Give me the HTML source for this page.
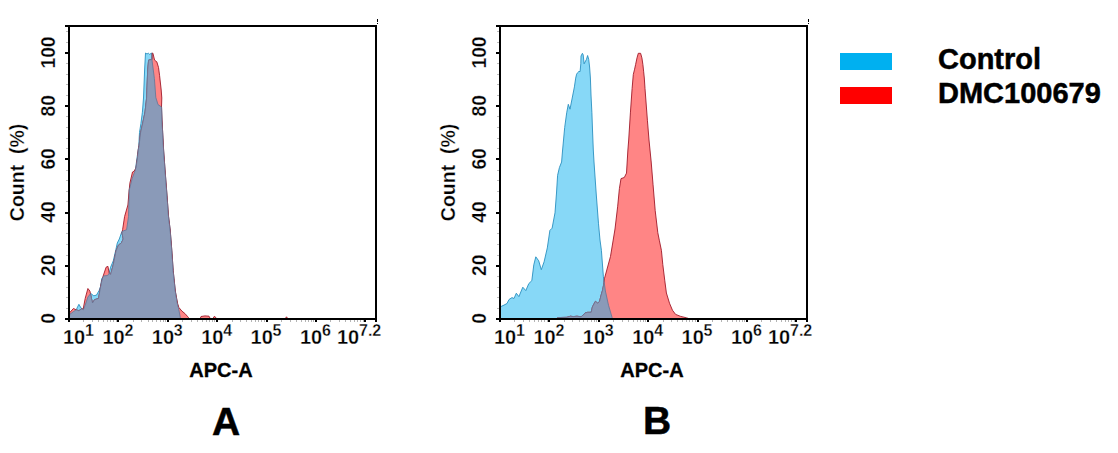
<!DOCTYPE html>
<html><head><meta charset="utf-8"><style>
html,body{margin:0;padding:0;background:#fff;}
body{width:1118px;height:453px;overflow:hidden;}
svg{display:block;}
.th{stroke:#fff;stroke-width:0.3px;}
.bo{stroke:#000;stroke-width:0.5px;}
.bo3{stroke:#000;stroke-width:0.3px;}
text{font-family:"Liberation Sans",sans-serif;font-weight:bold;fill:#000;}
</style></head><body>
<svg width="1118" height="453" viewBox="0 0 1118 453">

<defs><clipPath id="hAc"><polygon points="69.0,319.0 69.8,314.3 73.4,311.6 76.2,309.8 78.9,304.3 81.0,308.0 83.4,309.8 85.2,305.0 87.9,297.0 90.7,293.5 91.2,293.8 93.8,295.8 96.5,295.1 99.1,290.5 100.5,286.5 101.8,278.5 103.8,275.9 107.0,275.6 108.8,274.4 110.6,267.2 113.3,260.8 116.0,249.0 117.3,243.0 119.3,239.0 121.9,231.5 126.6,229.7 128.5,216.5 128.8,207.0 129.2,190.0 129.9,187.5 132.1,178.7 135.4,169.9 136.9,158.8 138.8,145.3 139.5,132.4 140.9,123.7 142.4,112.2 143.5,98.0 144.6,70.0 145.5,53.0 147.0,54.0 148.3,53.2 149.6,54.3 151.8,53.0 152.0,60.0 154.4,78.7 155.8,97.4 158.0,104.6 161.6,107.0 162.0,120.0 163.6,150.0 165.2,172.0 166.9,194.0 168.5,216.2 170.2,230.0 171.8,250.3 173.2,270.7 175.3,291.0 177.3,303.2 178.9,310.0 180.3,317.5 181.0,319.0"/></clipPath><clipPath id="hAr"><polygon points="69.0,319.0 69.8,312.5 73.4,308.5 76.2,309.8 78.9,310.7 81.6,308.9 83.2,309.0 85.2,298.4 87.9,288.5 89.9,291.1 91.2,297.1 92.5,303.0 94.5,299.7 98.5,298.4 101.1,283.8 103.0,276.5 106.1,267.2 107.9,266.3 109.3,273.5 110.6,274.4 113.3,264.5 116.0,250.9 118.5,245.0 121.3,243.0 123.2,239.0 122.0,233.0 122.6,229.7 124.6,216.5 127.9,205.0 129.2,190.0 129.9,183.1 132.5,172.0 134.3,171.0 136.0,167.6 137.6,156.6 138.2,150.0 139.0,146.0 140.5,133.0 142.5,124.0 145.0,112.0 146.6,98.0 147.7,70.0 148.6,60.0 152.0,59.5 152.2,53.0 152.9,53.2 154.6,60.2 156.8,61.8 158.5,67.4 159.6,75.7 161.2,90.0 161.8,98.0 161.5,107.0 162.0,120.0 163.6,150.0 165.2,172.0 166.9,194.0 168.5,216.2 170.2,230.0 171.8,250.3 173.2,270.7 175.3,291.0 176.0,295.0 177.7,303.9 178.9,307.5 181.9,311.1 184.9,313.5 187.3,316.2 188.5,317.6 189.0,319.0 200.0,319.0 201.0,316.5 205.0,315.9 209.0,316.2 210.5,319.0 212.5,319.0 214.5,316.2 217.0,319.0 285.0,319.0 286.5,316.8 288.0,319.0"/></clipPath></defs>
<polygon points="69.0,319.0 69.8,314.3 73.4,311.6 76.2,309.8 78.9,304.3 81.0,308.0 83.4,309.8 85.2,305.0 87.9,297.0 90.7,293.5 91.2,293.8 93.8,295.8 96.5,295.1 99.1,290.5 100.5,286.5 101.8,278.5 103.8,275.9 107.0,275.6 108.8,274.4 110.6,267.2 113.3,260.8 116.0,249.0 117.3,243.0 119.3,239.0 121.9,231.5 126.6,229.7 128.5,216.5 128.8,207.0 129.2,190.0 129.9,187.5 132.1,178.7 135.4,169.9 136.9,158.8 138.8,145.3 139.5,132.4 140.9,123.7 142.4,112.2 143.5,98.0 144.6,70.0 145.5,53.0 147.0,54.0 148.3,53.2 149.6,54.3 151.8,53.0 152.0,60.0 154.4,78.7 155.8,97.4 158.0,104.6 161.6,107.0 162.0,120.0 163.6,150.0 165.2,172.0 166.9,194.0 168.5,216.2 170.2,230.0 171.8,250.3 173.2,270.7 175.3,291.0 177.3,303.2 178.9,310.0 180.3,317.5 181.0,319.0" fill="#87d8f7" stroke="#2a90c0" stroke-width="0.9" stroke-linejoin="round"/>
<polygon points="69.0,319.0 69.8,312.5 73.4,308.5 76.2,309.8 78.9,310.7 81.6,308.9 83.2,309.0 85.2,298.4 87.9,288.5 89.9,291.1 91.2,297.1 92.5,303.0 94.5,299.7 98.5,298.4 101.1,283.8 103.0,276.5 106.1,267.2 107.9,266.3 109.3,273.5 110.6,274.4 113.3,264.5 116.0,250.9 118.5,245.0 121.3,243.0 123.2,239.0 122.0,233.0 122.6,229.7 124.6,216.5 127.9,205.0 129.2,190.0 129.9,183.1 132.5,172.0 134.3,171.0 136.0,167.6 137.6,156.6 138.2,150.0 139.0,146.0 140.5,133.0 142.5,124.0 145.0,112.0 146.6,98.0 147.7,70.0 148.6,60.0 152.0,59.5 152.2,53.0 152.9,53.2 154.6,60.2 156.8,61.8 158.5,67.4 159.6,75.7 161.2,90.0 161.8,98.0 161.5,107.0 162.0,120.0 163.6,150.0 165.2,172.0 166.9,194.0 168.5,216.2 170.2,230.0 171.8,250.3 173.2,270.7 175.3,291.0 176.0,295.0 177.7,303.9 178.9,307.5 181.9,311.1 184.9,313.5 187.3,316.2 188.5,317.6 189.0,319.0 200.0,319.0 201.0,316.5 205.0,315.9 209.0,316.2 210.5,319.0 212.5,319.0 214.5,316.2 217.0,319.0 285.0,319.0 286.5,316.8 288.0,319.0" fill="#ff8585" stroke="#a01828" stroke-width="0.9" stroke-linejoin="round"/>
<g clip-path="url(#hAc)"><polygon points="69.0,319.0 69.8,312.5 73.4,308.5 76.2,309.8 78.9,310.7 81.6,308.9 83.2,309.0 85.2,298.4 87.9,288.5 89.9,291.1 91.2,297.1 92.5,303.0 94.5,299.7 98.5,298.4 101.1,283.8 103.0,276.5 106.1,267.2 107.9,266.3 109.3,273.5 110.6,274.4 113.3,264.5 116.0,250.9 118.5,245.0 121.3,243.0 123.2,239.0 122.0,233.0 122.6,229.7 124.6,216.5 127.9,205.0 129.2,190.0 129.9,183.1 132.5,172.0 134.3,171.0 136.0,167.6 137.6,156.6 138.2,150.0 139.0,146.0 140.5,133.0 142.5,124.0 145.0,112.0 146.6,98.0 147.7,70.0 148.6,60.0 152.0,59.5 152.2,53.0 152.9,53.2 154.6,60.2 156.8,61.8 158.5,67.4 159.6,75.7 161.2,90.0 161.8,98.0 161.5,107.0 162.0,120.0 163.6,150.0 165.2,172.0 166.9,194.0 168.5,216.2 170.2,230.0 171.8,250.3 173.2,270.7 175.3,291.0 176.0,295.0 177.7,303.9 178.9,307.5 181.9,311.1 184.9,313.5 187.3,316.2 188.5,317.6 189.0,319.0 200.0,319.0 201.0,316.5 205.0,315.9 209.0,316.2 210.5,319.0 212.5,319.0 214.5,316.2 217.0,319.0 285.0,319.0 286.5,316.8 288.0,319.0" fill="#8a9ab8" stroke="#6a7898" stroke-width="0.9" stroke-linejoin="round"/></g>
<g clip-path="url(#hAr)"><polygon points="69.0,319.0 69.8,314.3 73.4,311.6 76.2,309.8 78.9,304.3 81.0,308.0 83.4,309.8 85.2,305.0 87.9,297.0 90.7,293.5 91.2,293.8 93.8,295.8 96.5,295.1 99.1,290.5 100.5,286.5 101.8,278.5 103.8,275.9 107.0,275.6 108.8,274.4 110.6,267.2 113.3,260.8 116.0,249.0 117.3,243.0 119.3,239.0 121.9,231.5 126.6,229.7 128.5,216.5 128.8,207.0 129.2,190.0 129.9,187.5 132.1,178.7 135.4,169.9 136.9,158.8 138.8,145.3 139.5,132.4 140.9,123.7 142.4,112.2 143.5,98.0 144.6,70.0 145.5,53.0 147.0,54.0 148.3,53.2 149.6,54.3 151.8,53.0 152.0,60.0 154.4,78.7 155.8,97.4 158.0,104.6 161.6,107.0 162.0,120.0 163.6,150.0 165.2,172.0 166.9,194.0 168.5,216.2 170.2,230.0 171.8,250.3 173.2,270.7 175.3,291.0 177.3,303.2 178.9,310.0 180.3,317.5 181.0,319.0" fill="none" stroke="#6a7898" stroke-width="0.9" stroke-linejoin="round"/></g>
<rect x="83" y="320" width="1" height="2" fill="#b4b4b4"/>
<rect x="92" y="320" width="1" height="2" fill="#b4b4b4"/>
<rect x="98" y="320" width="1" height="2" fill="#b4b4b4"/>
<rect x="103" y="320" width="1" height="2" fill="#b4b4b4"/>
<rect x="107" y="320" width="1" height="2" fill="#b4b4b4"/>
<rect x="110" y="320" width="1" height="2" fill="#b4b4b4"/>
<rect x="113" y="320" width="1" height="2" fill="#b4b4b4"/>
<rect x="116" y="320" width="1" height="2" fill="#b4b4b4"/>
<rect x="133" y="320" width="1" height="2" fill="#b4b4b4"/>
<rect x="141" y="320" width="1" height="2" fill="#b4b4b4"/>
<rect x="148" y="320" width="1" height="2" fill="#b4b4b4"/>
<rect x="152" y="320" width="1" height="2" fill="#b4b4b4"/>
<rect x="156" y="320" width="1" height="2" fill="#b4b4b4"/>
<rect x="160" y="320" width="1" height="2" fill="#b4b4b4"/>
<rect x="163" y="320" width="1" height="2" fill="#b4b4b4"/>
<rect x="165" y="320" width="1" height="2" fill="#b4b4b4"/>
<rect x="182" y="320" width="1" height="2" fill="#b4b4b4"/>
<rect x="191" y="320" width="1" height="2" fill="#b4b4b4"/>
<rect x="197" y="320" width="1" height="2" fill="#b4b4b4"/>
<rect x="202" y="320" width="1" height="2" fill="#b4b4b4"/>
<rect x="206" y="320" width="1" height="2" fill="#b4b4b4"/>
<rect x="209" y="320" width="1" height="2" fill="#b4b4b4"/>
<rect x="212" y="320" width="1" height="2" fill="#b4b4b4"/>
<rect x="214" y="320" width="1" height="2" fill="#b4b4b4"/>
<rect x="232" y="320" width="1" height="2" fill="#b4b4b4"/>
<rect x="240" y="320" width="1" height="2" fill="#b4b4b4"/>
<rect x="246" y="320" width="1" height="2" fill="#b4b4b4"/>
<rect x="251" y="320" width="1" height="2" fill="#b4b4b4"/>
<rect x="255" y="320" width="1" height="2" fill="#b4b4b4"/>
<rect x="258" y="320" width="1" height="2" fill="#b4b4b4"/>
<rect x="261" y="320" width="1" height="2" fill="#b4b4b4"/>
<rect x="264" y="320" width="1" height="2" fill="#b4b4b4"/>
<rect x="281" y="320" width="1" height="2" fill="#b4b4b4"/>
<rect x="290" y="320" width="1" height="2" fill="#b4b4b4"/>
<rect x="296" y="320" width="1" height="2" fill="#b4b4b4"/>
<rect x="301" y="320" width="1" height="2" fill="#b4b4b4"/>
<rect x="305" y="320" width="1" height="2" fill="#b4b4b4"/>
<rect x="308" y="320" width="1" height="2" fill="#b4b4b4"/>
<rect x="311" y="320" width="1" height="2" fill="#b4b4b4"/>
<rect x="313" y="320" width="1" height="2" fill="#b4b4b4"/>
<rect x="330" y="320" width="1" height="2" fill="#b4b4b4"/>
<rect x="339" y="320" width="1" height="2" fill="#b4b4b4"/>
<rect x="345" y="320" width="1" height="2" fill="#b4b4b4"/>
<rect x="350" y="320" width="1" height="2" fill="#b4b4b4"/>
<rect x="354" y="320" width="1" height="2" fill="#b4b4b4"/>
<rect x="357" y="320" width="1" height="2" fill="#b4b4b4"/>
<rect x="360" y="320" width="1" height="2" fill="#b4b4b4"/>
<rect x="363" y="320" width="1" height="2" fill="#b4b4b4"/>
<rect x="66" y="308" width="2" height="1" fill="#bcbcbc"/>
<rect x="66" y="297" width="2" height="1" fill="#bcbcbc"/>
<rect x="66" y="287" width="2" height="1" fill="#bcbcbc"/>
<rect x="66" y="276" width="2" height="1" fill="#bcbcbc"/>
<rect x="66" y="255" width="2" height="1" fill="#bcbcbc"/>
<rect x="66" y="244" width="2" height="1" fill="#bcbcbc"/>
<rect x="66" y="233" width="2" height="1" fill="#bcbcbc"/>
<rect x="66" y="223" width="2" height="1" fill="#bcbcbc"/>
<rect x="66" y="201" width="2" height="1" fill="#bcbcbc"/>
<rect x="66" y="191" width="2" height="1" fill="#bcbcbc"/>
<rect x="66" y="180" width="2" height="1" fill="#bcbcbc"/>
<rect x="66" y="170" width="2" height="1" fill="#bcbcbc"/>
<rect x="66" y="148" width="2" height="1" fill="#bcbcbc"/>
<rect x="66" y="138" width="2" height="1" fill="#bcbcbc"/>
<rect x="66" y="127" width="2" height="1" fill="#bcbcbc"/>
<rect x="66" y="116" width="2" height="1" fill="#bcbcbc"/>
<rect x="66" y="95" width="2" height="1" fill="#bcbcbc"/>
<rect x="66" y="84" width="2" height="1" fill="#bcbcbc"/>
<rect x="66" y="74" width="2" height="1" fill="#bcbcbc"/>
<rect x="66" y="63" width="2" height="1" fill="#bcbcbc"/>
<rect x="66" y="42" width="2" height="1" fill="#bcbcbc"/>
<rect x="66" y="31" width="2" height="1" fill="#bcbcbc"/>
<g fill="#000" shape-rendering="crispEdges">
<rect x="65" y="25" width="312" height="2"/>
<rect x="65" y="318" width="312" height="2"/>
<rect x="68" y="25" width="2" height="297"/>
<rect x="375" y="25" width="2" height="297"/>
<rect x="68" y="318" width="2" height="4"/>
<rect x="117" y="318" width="2" height="4"/>
<rect x="167" y="318" width="2" height="4"/>
<rect x="216" y="318" width="2" height="4"/>
<rect x="266" y="318" width="2" height="4"/>
<rect x="315" y="318" width="2" height="4"/>
<rect x="364" y="318" width="2" height="4"/>
<rect x="65" y="318" width="5" height="2"/>
<rect x="65" y="265" width="5" height="2"/>
<rect x="65" y="212" width="5" height="2"/>
<rect x="65" y="158" width="5" height="2"/>
<rect x="65" y="105" width="5" height="2"/>
<rect x="65" y="52" width="5" height="2"/>
<rect x="377" y="19" width="1" height="3"/><rect x="377" y="23" width="1" height="1"/>
</g>
<text transform="translate(55,318.5) rotate(-90)" text-anchor="middle" font-size="19.3" class="th">0</text>
<text transform="translate(55,265.3) rotate(-90)" text-anchor="middle" font-size="19.3" class="th">20</text>
<text transform="translate(55,212.1) rotate(-90)" text-anchor="middle" font-size="19.3" class="th">40</text>
<text transform="translate(55,158.9) rotate(-90)" text-anchor="middle" font-size="19.3" class="th">60</text>
<text transform="translate(55,105.7) rotate(-90)" text-anchor="middle" font-size="19.3" class="th">80</text>
<text transform="translate(55,52.5) rotate(-90)" text-anchor="middle" font-size="19.3" class="th">100</text>
<text transform="translate(24,172.4) rotate(-90)" text-anchor="middle" font-size="19.5" class="th" style="white-space:pre">Count  (%)</text>
<text x="63" y="344" font-size="20" class="th">10</text><text x="85" y="336" font-size="16" class="th">1</text>
<text x="102.4" y="344" font-size="20" class="th">10</text><text x="124.4" y="336" font-size="16" class="th">2</text>
<text x="151.8" y="344" font-size="20" class="th">10</text><text x="173.8" y="336" font-size="16" class="th">3</text>
<text x="201.2" y="344" font-size="20" class="th">10</text><text x="223.2" y="336" font-size="16" class="th">4</text>
<text x="250.6" y="344" font-size="20" class="th">10</text><text x="272.6" y="336" font-size="16" class="th">5</text>
<text x="300.0" y="344" font-size="20" class="th">10</text><text x="322.0" y="336" font-size="16" class="th">6</text>
<text x="337" y="344" font-size="20" class="th">10</text><text x="359" y="336" font-size="16" class="th">7.2</text>
<text x="221" y="377" text-anchor="middle" font-size="20" class="bo3">APC-A</text>
<text x="226" y="435" text-anchor="middle" font-size="39" class="bo">A</text>
<defs><clipPath id="hBc"><polygon points="500.0,319.0 500.0,307.0 501.0,306.5 504.0,305.1 507.0,303.5 509.0,299.5 512.0,297.6 514.0,298.5 516.3,293.2 518.9,296.6 522.8,287.2 525.8,290.6 528.8,283.6 531.8,280.7 533.8,264.8 535.8,256.8 538.7,260.8 541.3,269.7 544.1,261.8 547.3,247.9 549.9,230.4 552.1,228.2 555.0,212.8 556.5,193.0 557.6,175.3 559.4,167.6 561.6,162.0 562.5,151.0 564.7,127.4 566.7,112.8 568.3,104.3 570.0,109.2 572.8,95.0 574.4,86.9 575.7,78.1 576.6,74.2 577.7,72.6 578.8,71.5 580.1,71.5 580.8,63.8 581.0,56.0 582.4,53.3 583.2,54.9 584.1,63.8 586.5,59.3 587.6,55.5 588.7,59.3 589.6,67.0 590.4,78.0 591.0,95.0 591.9,112.8 592.5,130.0 593.3,150.0 594.0,162.0 596.3,195.0 598.5,223.8 600.0,240.0 601.4,250.3 603.4,276.8 605.4,291.0 608.5,305.2 612.1,317.5 613.0,319.0"/></clipPath><clipPath id="hBr"><polygon points="556.0,319.0 557.9,317.6 566.8,317.3 570.4,316.2 573.4,316.6 577.0,316.2 581.1,316.8 585.3,312.9 587.7,312.3 591.2,312.3 592.4,306.9 595.4,301.3 597.8,303.3 599.6,301.2 600.9,295.9 602.7,289.7 604.0,282.6 604.4,278.8 610.5,256.4 615.0,229.0 617.7,206.2 619.4,188.6 621.0,178.6 624.3,177.5 626.5,173.1 627.9,150.0 628.7,140.0 630.4,112.9 632.1,88.6 633.3,74.5 634.6,69.2 635.6,64.6 637.0,57.9 638.3,53.3 640.6,53.3 641.9,57.9 642.9,64.6 643.6,71.2 644.3,78.0 645.0,88.6 647.4,120.2 649.0,140.0 651.2,162.0 653.0,184.2 655.2,210.6 657.8,232.7 659.3,240.2 661.4,250.3 662.8,264.6 664.8,280.8 666.4,293.0 669.5,303.2 672.5,310.3 675.6,314.4 680.7,316.4 686.8,317.9 690.0,319.0"/></clipPath></defs>
<polygon points="500.0,319.0 500.0,307.0 501.0,306.5 504.0,305.1 507.0,303.5 509.0,299.5 512.0,297.6 514.0,298.5 516.3,293.2 518.9,296.6 522.8,287.2 525.8,290.6 528.8,283.6 531.8,280.7 533.8,264.8 535.8,256.8 538.7,260.8 541.3,269.7 544.1,261.8 547.3,247.9 549.9,230.4 552.1,228.2 555.0,212.8 556.5,193.0 557.6,175.3 559.4,167.6 561.6,162.0 562.5,151.0 564.7,127.4 566.7,112.8 568.3,104.3 570.0,109.2 572.8,95.0 574.4,86.9 575.7,78.1 576.6,74.2 577.7,72.6 578.8,71.5 580.1,71.5 580.8,63.8 581.0,56.0 582.4,53.3 583.2,54.9 584.1,63.8 586.5,59.3 587.6,55.5 588.7,59.3 589.6,67.0 590.4,78.0 591.0,95.0 591.9,112.8 592.5,130.0 593.3,150.0 594.0,162.0 596.3,195.0 598.5,223.8 600.0,240.0 601.4,250.3 603.4,276.8 605.4,291.0 608.5,305.2 612.1,317.5 613.0,319.0" fill="#87d8f7" stroke="#2a90c0" stroke-width="0.9" stroke-linejoin="round"/>
<polygon points="556.0,319.0 557.9,317.6 566.8,317.3 570.4,316.2 573.4,316.6 577.0,316.2 581.1,316.8 585.3,312.9 587.7,312.3 591.2,312.3 592.4,306.9 595.4,301.3 597.8,303.3 599.6,301.2 600.9,295.9 602.7,289.7 604.0,282.6 604.4,278.8 610.5,256.4 615.0,229.0 617.7,206.2 619.4,188.6 621.0,178.6 624.3,177.5 626.5,173.1 627.9,150.0 628.7,140.0 630.4,112.9 632.1,88.6 633.3,74.5 634.6,69.2 635.6,64.6 637.0,57.9 638.3,53.3 640.6,53.3 641.9,57.9 642.9,64.6 643.6,71.2 644.3,78.0 645.0,88.6 647.4,120.2 649.0,140.0 651.2,162.0 653.0,184.2 655.2,210.6 657.8,232.7 659.3,240.2 661.4,250.3 662.8,264.6 664.8,280.8 666.4,293.0 669.5,303.2 672.5,310.3 675.6,314.4 680.7,316.4 686.8,317.9 690.0,319.0" fill="#ff8585" stroke="#a01828" stroke-width="0.9" stroke-linejoin="round"/>
<g clip-path="url(#hBc)"><polygon points="556.0,319.0 557.9,317.6 566.8,317.3 570.4,316.2 573.4,316.6 577.0,316.2 581.1,316.8 585.3,312.9 587.7,312.3 591.2,312.3 592.4,306.9 595.4,301.3 597.8,303.3 599.6,301.2 600.9,295.9 602.7,289.7 604.0,282.6 604.4,278.8 610.5,256.4 615.0,229.0 617.7,206.2 619.4,188.6 621.0,178.6 624.3,177.5 626.5,173.1 627.9,150.0 628.7,140.0 630.4,112.9 632.1,88.6 633.3,74.5 634.6,69.2 635.6,64.6 637.0,57.9 638.3,53.3 640.6,53.3 641.9,57.9 642.9,64.6 643.6,71.2 644.3,78.0 645.0,88.6 647.4,120.2 649.0,140.0 651.2,162.0 653.0,184.2 655.2,210.6 657.8,232.7 659.3,240.2 661.4,250.3 662.8,264.6 664.8,280.8 666.4,293.0 669.5,303.2 672.5,310.3 675.6,314.4 680.7,316.4 686.8,317.9 690.0,319.0" fill="#8a9ab8" stroke="#6a7898" stroke-width="0.9" stroke-linejoin="round"/></g>
<g clip-path="url(#hBr)"><polygon points="500.0,319.0 500.0,307.0 501.0,306.5 504.0,305.1 507.0,303.5 509.0,299.5 512.0,297.6 514.0,298.5 516.3,293.2 518.9,296.6 522.8,287.2 525.8,290.6 528.8,283.6 531.8,280.7 533.8,264.8 535.8,256.8 538.7,260.8 541.3,269.7 544.1,261.8 547.3,247.9 549.9,230.4 552.1,228.2 555.0,212.8 556.5,193.0 557.6,175.3 559.4,167.6 561.6,162.0 562.5,151.0 564.7,127.4 566.7,112.8 568.3,104.3 570.0,109.2 572.8,95.0 574.4,86.9 575.7,78.1 576.6,74.2 577.7,72.6 578.8,71.5 580.1,71.5 580.8,63.8 581.0,56.0 582.4,53.3 583.2,54.9 584.1,63.8 586.5,59.3 587.6,55.5 588.7,59.3 589.6,67.0 590.4,78.0 591.0,95.0 591.9,112.8 592.5,130.0 593.3,150.0 594.0,162.0 596.3,195.0 598.5,223.8 600.0,240.0 601.4,250.3 603.4,276.8 605.4,291.0 608.5,305.2 612.1,317.5 613.0,319.0" fill="none" stroke="#6a7898" stroke-width="0.9" stroke-linejoin="round"/></g>
<rect x="514" y="320" width="1" height="2" fill="#b4b4b4"/>
<rect x="523" y="320" width="1" height="2" fill="#b4b4b4"/>
<rect x="529" y="320" width="1" height="2" fill="#b4b4b4"/>
<rect x="534" y="320" width="1" height="2" fill="#b4b4b4"/>
<rect x="538" y="320" width="1" height="2" fill="#b4b4b4"/>
<rect x="541" y="320" width="1" height="2" fill="#b4b4b4"/>
<rect x="544" y="320" width="1" height="2" fill="#b4b4b4"/>
<rect x="547" y="320" width="1" height="2" fill="#b4b4b4"/>
<rect x="564" y="320" width="1" height="2" fill="#b4b4b4"/>
<rect x="572" y="320" width="1" height="2" fill="#b4b4b4"/>
<rect x="579" y="320" width="1" height="2" fill="#b4b4b4"/>
<rect x="583" y="320" width="1" height="2" fill="#b4b4b4"/>
<rect x="587" y="320" width="1" height="2" fill="#b4b4b4"/>
<rect x="591" y="320" width="1" height="2" fill="#b4b4b4"/>
<rect x="594" y="320" width="1" height="2" fill="#b4b4b4"/>
<rect x="596" y="320" width="1" height="2" fill="#b4b4b4"/>
<rect x="613" y="320" width="1" height="2" fill="#b4b4b4"/>
<rect x="622" y="320" width="1" height="2" fill="#b4b4b4"/>
<rect x="628" y="320" width="1" height="2" fill="#b4b4b4"/>
<rect x="633" y="320" width="1" height="2" fill="#b4b4b4"/>
<rect x="637" y="320" width="1" height="2" fill="#b4b4b4"/>
<rect x="640" y="320" width="1" height="2" fill="#b4b4b4"/>
<rect x="643" y="320" width="1" height="2" fill="#b4b4b4"/>
<rect x="645" y="320" width="1" height="2" fill="#b4b4b4"/>
<rect x="663" y="320" width="1" height="2" fill="#b4b4b4"/>
<rect x="671" y="320" width="1" height="2" fill="#b4b4b4"/>
<rect x="677" y="320" width="1" height="2" fill="#b4b4b4"/>
<rect x="682" y="320" width="1" height="2" fill="#b4b4b4"/>
<rect x="686" y="320" width="1" height="2" fill="#b4b4b4"/>
<rect x="689" y="320" width="1" height="2" fill="#b4b4b4"/>
<rect x="692" y="320" width="1" height="2" fill="#b4b4b4"/>
<rect x="695" y="320" width="1" height="2" fill="#b4b4b4"/>
<rect x="712" y="320" width="1" height="2" fill="#b4b4b4"/>
<rect x="721" y="320" width="1" height="2" fill="#b4b4b4"/>
<rect x="727" y="320" width="1" height="2" fill="#b4b4b4"/>
<rect x="732" y="320" width="1" height="2" fill="#b4b4b4"/>
<rect x="736" y="320" width="1" height="2" fill="#b4b4b4"/>
<rect x="739" y="320" width="1" height="2" fill="#b4b4b4"/>
<rect x="742" y="320" width="1" height="2" fill="#b4b4b4"/>
<rect x="744" y="320" width="1" height="2" fill="#b4b4b4"/>
<rect x="761" y="320" width="1" height="2" fill="#b4b4b4"/>
<rect x="770" y="320" width="1" height="2" fill="#b4b4b4"/>
<rect x="776" y="320" width="1" height="2" fill="#b4b4b4"/>
<rect x="781" y="320" width="1" height="2" fill="#b4b4b4"/>
<rect x="785" y="320" width="1" height="2" fill="#b4b4b4"/>
<rect x="788" y="320" width="1" height="2" fill="#b4b4b4"/>
<rect x="791" y="320" width="1" height="2" fill="#b4b4b4"/>
<rect x="794" y="320" width="1" height="2" fill="#b4b4b4"/>
<rect x="497" y="308" width="2" height="1" fill="#bcbcbc"/>
<rect x="497" y="297" width="2" height="1" fill="#bcbcbc"/>
<rect x="497" y="287" width="2" height="1" fill="#bcbcbc"/>
<rect x="497" y="276" width="2" height="1" fill="#bcbcbc"/>
<rect x="497" y="255" width="2" height="1" fill="#bcbcbc"/>
<rect x="497" y="244" width="2" height="1" fill="#bcbcbc"/>
<rect x="497" y="233" width="2" height="1" fill="#bcbcbc"/>
<rect x="497" y="223" width="2" height="1" fill="#bcbcbc"/>
<rect x="497" y="201" width="2" height="1" fill="#bcbcbc"/>
<rect x="497" y="191" width="2" height="1" fill="#bcbcbc"/>
<rect x="497" y="180" width="2" height="1" fill="#bcbcbc"/>
<rect x="497" y="170" width="2" height="1" fill="#bcbcbc"/>
<rect x="497" y="148" width="2" height="1" fill="#bcbcbc"/>
<rect x="497" y="138" width="2" height="1" fill="#bcbcbc"/>
<rect x="497" y="127" width="2" height="1" fill="#bcbcbc"/>
<rect x="497" y="116" width="2" height="1" fill="#bcbcbc"/>
<rect x="497" y="95" width="2" height="1" fill="#bcbcbc"/>
<rect x="497" y="84" width="2" height="1" fill="#bcbcbc"/>
<rect x="497" y="74" width="2" height="1" fill="#bcbcbc"/>
<rect x="497" y="63" width="2" height="1" fill="#bcbcbc"/>
<rect x="497" y="42" width="2" height="1" fill="#bcbcbc"/>
<rect x="497" y="31" width="2" height="1" fill="#bcbcbc"/>
<g fill="#000" shape-rendering="crispEdges">
<rect x="496" y="25" width="312" height="2"/>
<rect x="496" y="318" width="312" height="2"/>
<rect x="499" y="25" width="2" height="297"/>
<rect x="806" y="25" width="2" height="297"/>
<rect x="499" y="318" width="2" height="4"/>
<rect x="548" y="318" width="2" height="4"/>
<rect x="598" y="318" width="2" height="4"/>
<rect x="647" y="318" width="2" height="4"/>
<rect x="697" y="318" width="2" height="4"/>
<rect x="746" y="318" width="2" height="4"/>
<rect x="795" y="318" width="2" height="4"/>
<rect x="496" y="318" width="5" height="2"/>
<rect x="496" y="265" width="5" height="2"/>
<rect x="496" y="212" width="5" height="2"/>
<rect x="496" y="158" width="5" height="2"/>
<rect x="496" y="105" width="5" height="2"/>
<rect x="496" y="52" width="5" height="2"/>
<rect x="808" y="19" width="1" height="3"/><rect x="808" y="23" width="1" height="1"/>
</g>
<text transform="translate(486,318.5) rotate(-90)" text-anchor="middle" font-size="19.3" class="th">0</text>
<text transform="translate(486,265.3) rotate(-90)" text-anchor="middle" font-size="19.3" class="th">20</text>
<text transform="translate(486,212.1) rotate(-90)" text-anchor="middle" font-size="19.3" class="th">40</text>
<text transform="translate(486,158.9) rotate(-90)" text-anchor="middle" font-size="19.3" class="th">60</text>
<text transform="translate(486,105.7) rotate(-90)" text-anchor="middle" font-size="19.3" class="th">80</text>
<text transform="translate(486,52.5) rotate(-90)" text-anchor="middle" font-size="19.3" class="th">100</text>
<text transform="translate(455,172.4) rotate(-90)" text-anchor="middle" font-size="19.5" class="th" style="white-space:pre">Count  (%)</text>
<text x="494" y="344" font-size="20" class="th">10</text><text x="516" y="336" font-size="16" class="th">1</text>
<text x="533.4" y="344" font-size="20" class="th">10</text><text x="555.4" y="336" font-size="16" class="th">2</text>
<text x="582.8" y="344" font-size="20" class="th">10</text><text x="604.8" y="336" font-size="16" class="th">3</text>
<text x="632.2" y="344" font-size="20" class="th">10</text><text x="654.2" y="336" font-size="16" class="th">4</text>
<text x="681.6" y="344" font-size="20" class="th">10</text><text x="703.6" y="336" font-size="16" class="th">5</text>
<text x="731.0" y="344" font-size="20" class="th">10</text><text x="753.0" y="336" font-size="16" class="th">6</text>
<text x="768" y="344" font-size="20" class="th">10</text><text x="790" y="336" font-size="16" class="th">7.2</text>
<text x="652" y="377" text-anchor="middle" font-size="20" class="bo3">APC-A</text>
<text x="657" y="433.7" text-anchor="middle" font-size="39" class="bo">B</text>
<rect x="840" y="53" width="52" height="17" fill="#00b0f0"/>
<rect x="840" y="87" width="52" height="17" fill="#ff0000"/>
<text x="938" y="68.5" font-size="29" class="bo">Control</text>
<text x="938" y="103.2" font-size="29" class="bo">DMC100679</text>
</svg></body></html>
